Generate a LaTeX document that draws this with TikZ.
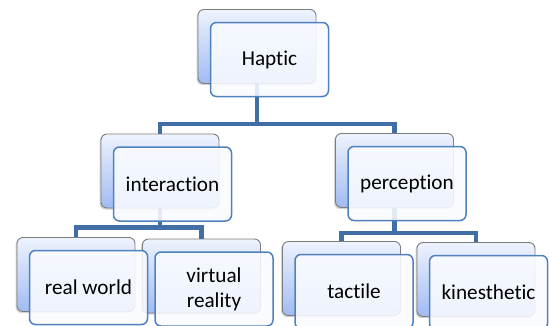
\documentclass[tikz,border=0pt]{standalone}
\usepackage{fontspec}
\setmainfont{Carlito}[Ligatures=NoCommon]
\usetikzlibrary{shadows}

\definecolor{linkblue}{RGB}{65,110,165}
\definecolor{frameblue}{RGB}{79,129,189}
\definecolor{framegray}{RGB}{125,125,125}
\definecolor{shadetop}{RGB}{238,243,253}
\definecolor{shadebot}{RGB}{160,187,243}
\definecolor{facewhite}{RGB}{249,251,255}

\tikzset{
  backbox/.style={rectangle,rounded corners=6pt,minimum width=118pt,minimum height=74pt,
    draw=framegray,line width=0.9pt,top color=shadetop,bottom color=shadebot,
    drop shadow={shadow xshift=-1.5pt,shadow yshift=-1.5pt,opacity=0.35}},
  frontbox/.style={rectangle,rounded corners=6pt,minimum width=118pt,minimum height=74pt,
    draw=frameblue,line width=1.5pt,fill=facewhite,fill opacity=0.88,text opacity=1,
    align=center,font=\fontsize{21.2}{25}\selectfont},
  link/.style={linkblue,line width=4.8pt}
}

\begin{document}
\begin{tikzpicture}[x=1pt,y=-1pt]

\useasboundingbox (0,0) rectangle (549,325);

% back boxes
\foreach \n/\x/\y in {haptic/257/46.5, interaction/160/171, perception/394.5/170.5,
    real/76/274.5, virtual/201.5/276, tactile/341.5/278.5, kin/476/279.5}{
    \node[backbox] (\n-back) at (\x,\y) {};
}

% connectors
\draw[link] (haptic-back.south) -- ++(0,40) -| (interaction-back.north);
\draw[link] (haptic-back.south) -- ++(0,40) -| (perception-back.north);
\draw[link] (interaction-back.south) -- ++(0,19) -| (real-back.north);
\draw[link] (interaction-back.south) -- ++(0,19) -| (virtual-back.north);
\draw[link] (perception-back.south) -- ++(0,25) -| (tactile-back.north);
\draw[link] (perception-back.south) -- ++(0,25) -| (kin-back.north);

% front boxes
\foreach \n/\t in {haptic/Haptic, interaction/interaction, perception/perception,
    real/real world, virtual/{virtual\\reality}, tactile/tactile, kin/kinesthetic}{
    \node[frontbox] (\n) at ([shift={(12.5,13)}]\n-back.center) {\t};
}

\end{tikzpicture}
\end{document}
